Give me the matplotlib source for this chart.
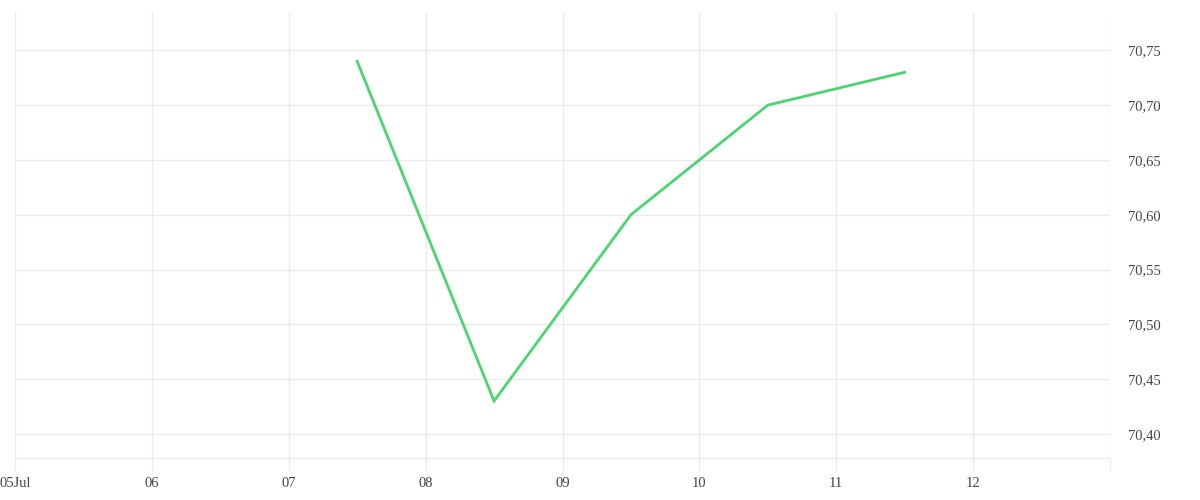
import numpy as np
import matplotlib
matplotlib.use('Agg')
import matplotlib.pyplot as plt
import matplotlib.dates as mdates
from datetime import datetime

# Data
dates = ['2019-07-07 12:00', '2019-07-08 12:00', '2019-07-09 12:00',
         '2019-07-10 12:00', '2019-07-11 12:00']
values = [70.74, 70.43, 70.60, 70.70, 70.73]
xtick_days = [5, 6, 7, 8, 9, 10, 11, 12, 13]
xtick_labels = ['05Jul', '06', '07', '08', '09', '10', '11', '12', '']
ytick_vals = [70.40, 70.45, 70.50, 70.55, 70.60, 70.65, 70.70, 70.75]

grid_c = '#ebebeb'
text_c = '#444444'
line_c = '#4cd471'

plt.rcParams['font.family'] = ['Liberation Serif', 'DejaVu Serif']

fig = plt.figure(figsize=(12, 5), dpi=100)
ax = fig.add_axes([15/1200, 1 - 458/500, (1110 - 15)/1200, (458 - 12)/500])

x = [datetime.strptime(d, '%Y-%m-%d %H:%M') for d in dates]
ax.plot(x, values, color=line_c, lw=2, solid_joinstyle='miter')

xt = [datetime(2019, 7, d) for d in xtick_days]
ax.set_xlim(xt[0], xt[-1])
ax.set_ylim(70.378, 70.785)
ax.set_xticks(xt)
ax.set_xticklabels(xtick_labels)
ax.set_yticks(ytick_vals)
ax.set_yticklabels([('%.2f' % v).replace('.', ',') for v in ytick_vals])

ax.yaxis.tick_right()
ax.tick_params(axis='y', length=0, pad=13, labelsize=10.5, labelcolor=text_c)
ax.tick_params(axis='x', length=9, width=1, color=grid_c, pad=5,
               labelsize=10.5, labelcolor=text_c)
ax.grid(True, color=grid_c, lw=1)
ax.set_axisbelow(True)

for s in ['top', 'left', 'right']:
    ax.spines[s].set_visible(False)
ax.spines['bottom'].set_color(grid_c)
ax.spines['bottom'].set_linewidth(1)

fig.savefig('out.png', dpi=100, facecolor='white')
